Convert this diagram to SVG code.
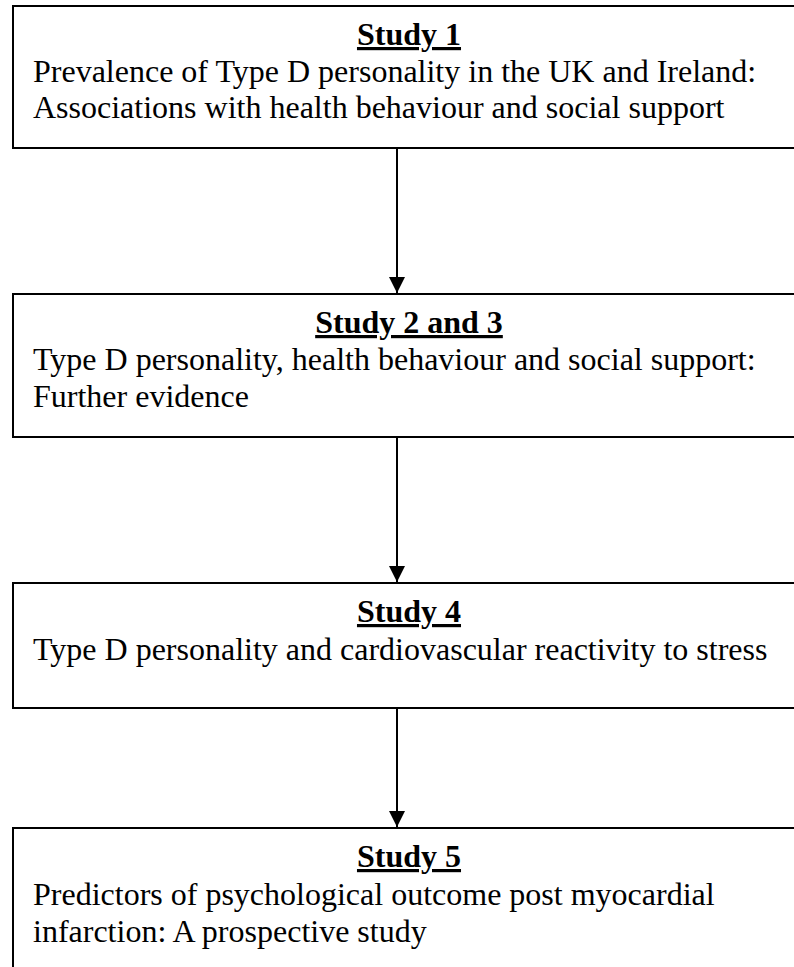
<svg xmlns="http://www.w3.org/2000/svg" width="794" height="967" viewBox="0 0 794 967">
<style>
.box{fill:#fff;stroke:#000;stroke-width:2}
.h{font-family:"Liberation Serif","Times New Roman",serif;font-size:32px;font-weight:bold;text-decoration:underline;text-anchor:middle;fill:#000}
.t{font-family:"Liberation Serif","Times New Roman",serif;font-size:32px;fill:#000}
.c{stroke:#000;stroke-width:2;fill:none}
</style>
<defs>
<marker id="ah" viewBox="0 0 16 16" refX="16" refY="8" markerWidth="16" markerHeight="16" markerUnits="userSpaceOnUse" orient="auto">
<path d="M0,0 L16,8 L0,16 Z" fill="#000"/>
</marker>
</defs>
<rect width="794" height="967" fill="#fff"/>
<g id="connectors">
<line class="c" x1="397" y1="149" x2="397" y2="293" marker-end="url(#ah)"/>
<line class="c" x1="397" y1="438" x2="397" y2="582" marker-end="url(#ah)"/>
<line class="c" x1="397" y1="708" x2="397" y2="827" marker-end="url(#ah)"/>
</g>
<g id="study1">
<rect class="box" x="13" y="6" width="800" height="142"/>
<text class="h" x="409" y="45">Study 1</text>
<text class="t" x="33" y="82">Prevalence of Type D personality in the UK and Ireland:</text>
<text class="t" x="33" y="118">Associations with health behaviour and social support</text>
</g>
<g id="study2and3">
<rect class="box" x="13" y="294" width="800" height="143"/>
<text class="h" x="409" y="333">Study 2 and 3</text>
<text class="t" x="33" y="370">Type D personality, health behaviour and social support:</text>
<text class="t" x="33" y="407">Further evidence</text>
</g>
<g id="study4">
<rect class="box" x="13" y="583" width="800" height="125"/>
<text class="h" x="409" y="622">Study 4</text>
<text class="t" x="33" y="660">Type D personality and cardiovascular reactivity to stress</text>
</g>
<g id="study5">
<rect class="box" x="13" y="828" width="800" height="160"/>
<text class="h" x="409" y="867">Study 5</text>
<text class="t" x="33" y="905">Predictors of psychological outcome post myocardial</text>
<text class="t" x="33" y="942">infarction: A prospective study</text>
</g>
</svg>
